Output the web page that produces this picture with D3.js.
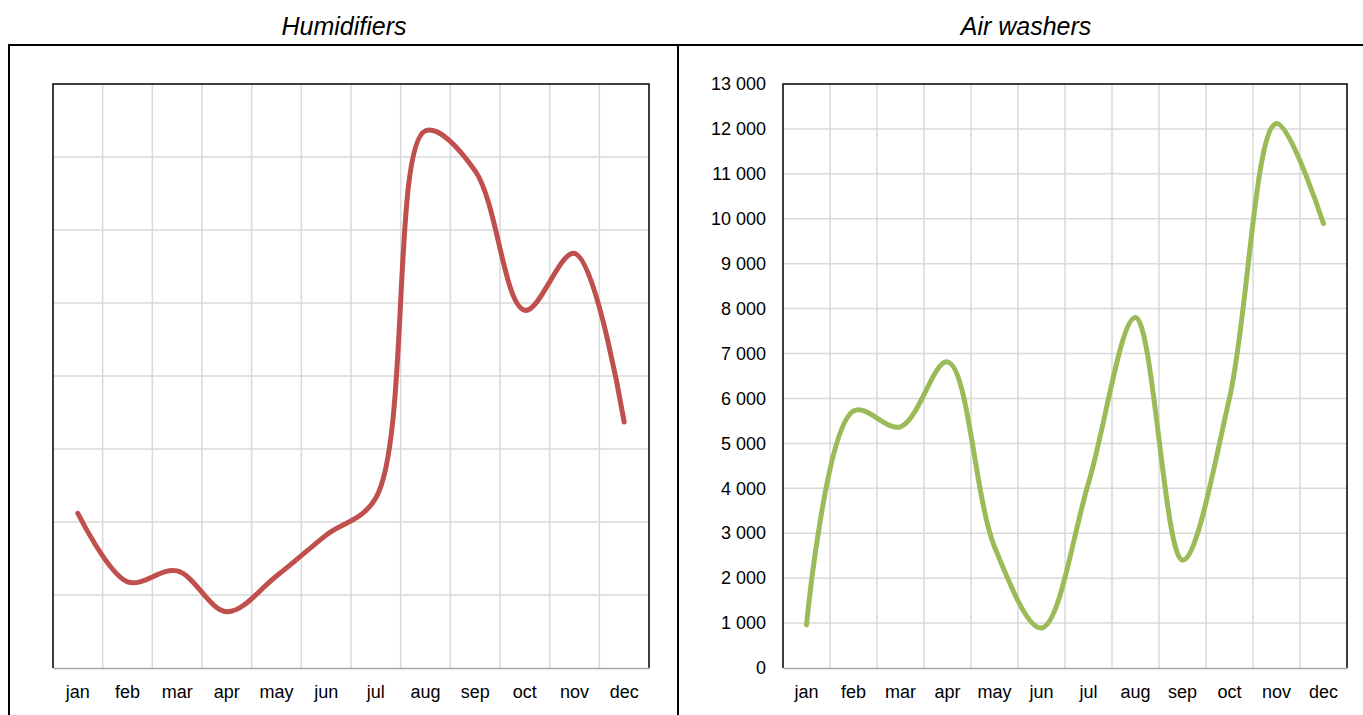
<!DOCTYPE html>
<html>
<head>
<meta charset="utf-8">
<script src="https://cdn.jsdelivr.net/npm/d3@7"></script>
<style>
  body { margin: 0; background: #fff; }
  svg { display: block; font-family: "Liberation Sans", Arial, sans-serif; }
</style>
</head>
<body>
<div class="chart"></div>
<script>
var months = ["jan", "feb", "mar", "apr", "may", "jun", "jul", "aug", "sep", "oct", "nov", "dec"];
var humidifiers = [2120, 1180, 1330, 770, 1260, 1820, 2330, 7360, 6810, 4900, 5680, 3370];
var airWashers = [960, 5720, 5370, 6815, 2700, 890, 4120, 7800, 2400, 6010, 12120, 9890];
var humTicks = [0, 1000, 2000, 3000, 4000, 5000, 6000, 7000, 8000];
var airTicks = d3.range(0, 13001, 1000);

var svgWidth = 1363;
var svgHeight = 715;

var svg = d3.select(".chart")
  .append("svg")
  .attr("width", svgWidth)
  .attr("height", svgHeight);

var fmt = d3.formatLocale({ decimal: ",", thousands: "\u00a0", grouping: [3], currency: ["", ""] }).format(",d");

// outer frame
svg.append("path")
  .attr("d", "M9,716 V45 H1364 M678,45 V716")
  .attr("fill", "none")
  .attr("stroke", "#000")
  .attr("stroke-width", 2);

function drawPanel(opts) {
  var x = d3.scaleBand().domain(months).range([opts.left, opts.right]);
  var y = d3.scaleLinear().domain([0, opts.max]).range([668, 84]);
  var g = svg.append("g");

  g.append("text")
    .attr("x", opts.titleX)
    .attr("y", 35)
    .attr("text-anchor", "middle")
    .attr("font-size", "25px")
    .attr("font-style", "italic")
    .text(opts.title);

  // vertical grid
  g.selectAll(".vgrid")
    .data(months.slice(1))
    .enter()
    .append("line")
    .attr("x1", d => x(d))
    .attr("x2", d => x(d))
    .attr("y1", 84)
    .attr("y2", 668)
    .attr("stroke", "#d9d9d9")
    .attr("stroke-width", 1.5);

  // horizontal grid
  g.selectAll(".hgrid")
    .data(opts.ticks.slice(1, -1))
    .enter()
    .append("line")
    .attr("x1", opts.left)
    .attr("x2", opts.right)
    .attr("y1", d => y(d))
    .attr("y2", d => y(d))
    .attr("stroke", "#d9d9d9")
    .attr("stroke-width", 1.5);

  // plot border
  g.append("path")
    .attr("d", `M${opts.left},668 V84 H${opts.right} V668`)
    .attr("fill", "none")
    .attr("stroke", "#000")
    .attr("stroke-width", 1.5);

  var bottomAxis = d3.axisBottom(x).tickSize(0).tickPadding(17);
  var xg = g.append("g")
    .attr("transform", "translate(0,668)")
    .call(bottomAxis);
  xg.select(".domain").attr("stroke", "#a6a6a6").attr("stroke-width", 1.5);
  xg.selectAll("text").attr("font-size", "18px").attr("font-family", "Liberation Sans, Arial, sans-serif").attr("fill", "#000");

  if (opts.showY) {
    var leftAxis = d3.axisLeft(y).tickValues(opts.ticks).tickSize(0).tickPadding(17).tickFormat(fmt);
    var yg = g.append("g")
      .attr("transform", `translate(${opts.left},0)`)
      .call(leftAxis);
    yg.select(".domain").remove();
    yg.selectAll("text").attr("font-size", "18px").attr("font-family", "Liberation Sans, Arial, sans-serif").attr("fill", "#000");
  }

  var line = d3.line()
    .x((d, i) => x(months[i]) + x.bandwidth() / 2)
    .y(d => y(d))
    .curve(d3.curveCatmullRom.alpha(0.5));

  g.append("path")
    .datum(opts.values)
    .attr("d", line)
    .attr("fill", "none")
    .attr("stroke", opts.color)
    .attr("stroke-width", 5)
    .attr("stroke-linecap", "round")
    .attr("stroke-linejoin", "round");
}

drawPanel({ title: "Humidifiers", titleX: 344, left: 53, right: 649, max: 8000, ticks: humTicks, values: humidifiers, color: "#c0504d", showY: false });
drawPanel({ title: "Air washers", titleX: 1026, left: 783, right: 1347, max: 13000, ticks: airTicks, values: airWashers, color: "#9bbb59", showY: true });
</script>
</body>
</html>
